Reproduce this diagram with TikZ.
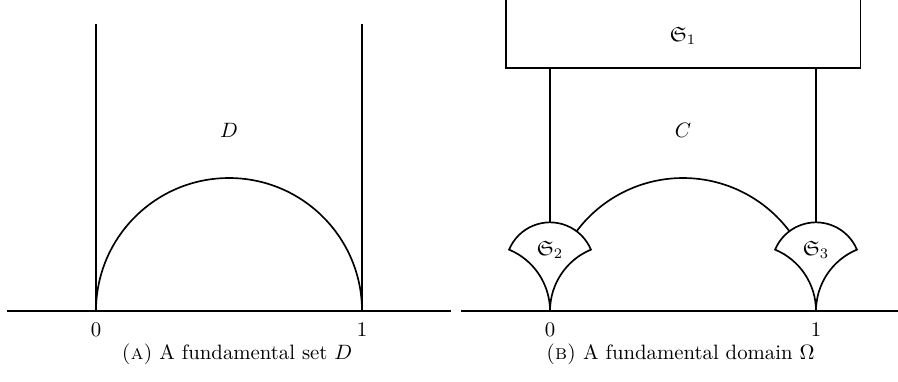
\documentclass[tikz,border=0pt]{standalone}
\usepackage{amssymb}
\tikzset{curve/.style={line width=0.8pt},lab/.style={inner sep=0pt}}
\begin{document}
\begin{tikzpicture}[x=4.5cm,y=4.5cm]
\useasboundingbox (-0.3609,-0.2632) rectangle (3.0150,1.1692);
\clip (-0.3609,-0.2632) rectangle (3.0150,1.1692);
% left panel
\coordinate (L0) at (0,0);
\coordinate (L1) at (1,0);
\draw[curve] (-1/3,0) -- (4/3,0);
\draw[curve] (L0) -- (0,1.08);
\draw[curve] (L1) -- (1,1.08);
\draw[curve] (L1) arc[start angle=0,end angle=180,radius=0.5];
\node[lab] (D) at (0.5,0.68) {$D$};
\node[lab,anchor=north] (l0) at (0,-0.045) {$0$};
\node[lab,anchor=north] (l1) at (1,-0.045) {$1$};
\node[lab] (capA) at (0.53,-0.162) {\textsc{(a)} A fundamental set $D$};
% right panel
\begin{scope}[xshift=1.7068*4.5cm]
\coordinate (R0) at (0,0);
\coordinate (R1) at (1,0);
\draw[curve] (-1/3,0) -- (4/3,0);
\draw[curve] (-1/6,1.3) -- (-1/6,0.913) -- (7/6,0.913) -- (7/6,1.3);
\draw[curve] (0,1/3) -- (0,0.913);
\draw[curve] (1,1/3) -- (1,0.913);
\draw[curve] (R0) arc[start angle=0,end angle=67.38,radius=0.25]
  arc[start angle=157.38,end angle=22.62,radius=1/6]
  arc[start angle=112.62,end angle=180,radius=0.25];
\draw[curve] (R1) arc[start angle=0,end angle=67.38,radius=0.25]
  arc[start angle=157.38,end angle=22.62,radius=1/6]
  arc[start angle=112.62,end angle=180,radius=0.25];
\draw[curve] (0.1,0.3) arc[start angle=143.13,end angle=36.87,radius=0.5];
\node[lab] (C) at (0.5,0.68) {$C$};
\node[lab] (S1) at (0.5,1.034) {$\mathfrak{S}_1$};
\node[lab] (S2) at (0,0.23) {$\mathfrak{S}_2$};
\node[lab] (S3) at (1,0.23) {$\mathfrak{S}_3$};
\node[lab,anchor=north] (r0) at (0,-0.045) {$0$};
\node[lab,anchor=north] (r1) at (1,-0.045) {$1$};
\node[lab] (capB) at (0.49,-0.162) {\textsc{(b)} A fundamental domain $\Omega$};
\end{scope}
\end{tikzpicture}
\end{document}
